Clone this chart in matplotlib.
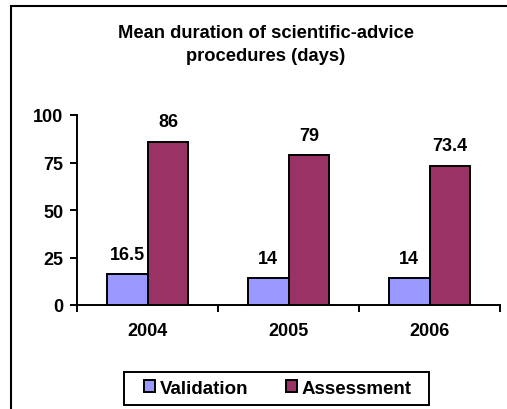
import matplotlib
matplotlib.use('Agg')
import matplotlib.pyplot as plt
from matplotlib.patches import Rectangle
import numpy as np

years = ['2004', '2005', '2006']
validation = [16.5, 14, 14]
assessment = [86, 79, 73.4]
series_names = ['Validation', 'Assessment']
title = 'Mean duration of scientific-advice\nprocedures (days)'

plt.rcParams['font.family'] = ['Liberation Sans', 'DejaVu Sans']
plt.rcParams['font.weight'] = 'bold'

fig = plt.figure(figsize=(5.07, 4.10), dpi=100)
ax = fig.add_axes([77 / 507, 1 - 306 / 410, (500 - 77) / 507, (306 - 116) / 410])

x = np.arange(len(years))
w = 0.29
b1 = ax.bar(x - w / 2, validation, w, color='#9999FF', edgecolor='black', linewidth=1.4,
            label=series_names[0], zorder=3)
b2 = ax.bar(x + w / 2, assessment, w, color='#993366', edgecolor='black', linewidth=1.4,
            label=series_names[1], zorder=3)

for bars in (b1, b2):
    for rect in bars:
        v = rect.get_height()
        ax.annotate(f'{v:g}', (rect.get_x() + rect.get_width() / 2, v),
                    xytext=(0, 8), textcoords='offset points',
                    ha='center', va='bottom', fontsize=13, fontweight='bold')

ax.set_xlim(-0.5, 2.5)
ax.set_ylim(0, 100)
ax.set_yticks([0, 25, 50, 75, 100])
ax.set_xticks(x)
ax.set_xticklabels(years)
ax.set_xticks(np.arange(-0.5, 3, 1), minor=True)
ax.tick_params(axis='x', which='major', length=0, pad=12, labelsize=13)
ax.tick_params(axis='x', which='minor', length=5, width=1.4, direction='out')
ax.tick_params(axis='y', length=5, width=1.4, pad=5, labelsize=13)

for s in ['top', 'right']:
    ax.spines[s].set_visible(False)
for s in ['left', 'bottom']:
    ax.spines[s].set_linewidth(1.4)

fig.text(266 / 507, 1 - 45 / 410, title, ha='center', va='center', fontsize=13.2,
         fontweight='bold', linespacing=1.45)

# legend entries, with the box drawn separately to match the wide padding
leg = fig.legend(loc='center', bbox_to_anchor=(277.5 / 507, 1 - 389.5 / 410), ncol=2,
                 fontsize=13.5, frameon=False,
                 handlelength=0.6, handleheight=0.6, handletextpad=0.25,
                 columnspacing=2.0, borderpad=0.3)
for h in leg.legend_handles:
    h.set_linewidth(1.4)

fig.patches.append(Rectangle((124 / 507, 1 - 406 / 410), (429 - 124) / 507, 33 / 410,
                             transform=fig.transFigure, fill=False, edgecolor='black',
                             linewidth=1.4))
fig.patches.append(Rectangle((11 / 507, -0.1), 1.2, 1 - 7 / 410 + 0.1, transform=fig.transFigure,
                             fill=False, edgecolor='black', linewidth=1.5))

fig.savefig('out.png', dpi=100)
